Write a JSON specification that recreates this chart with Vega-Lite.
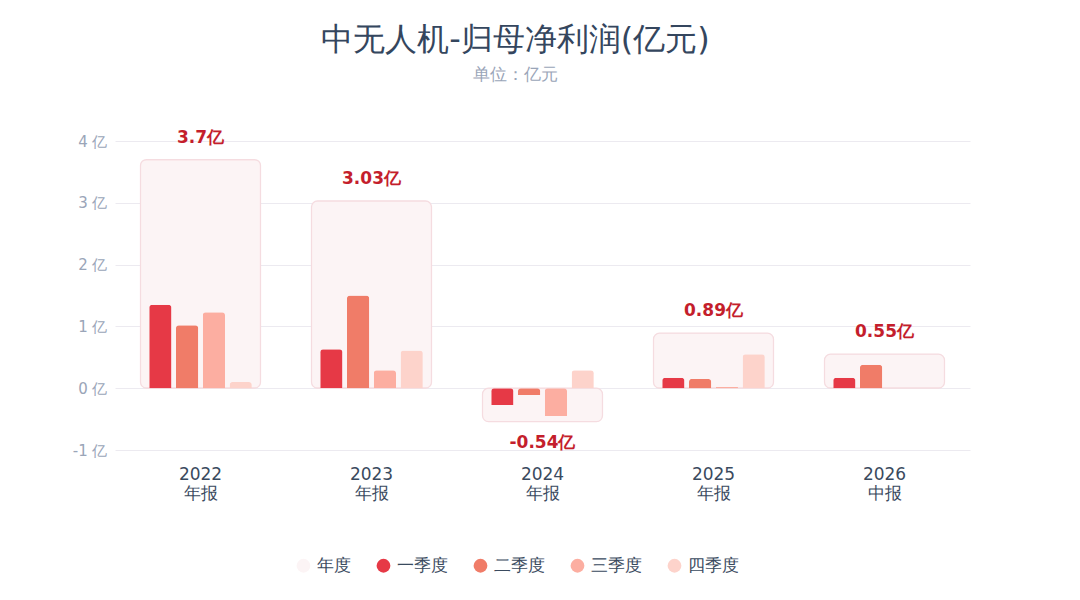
{
  "$schema": "https://vega.github.io/schema/vega-lite/v6.json",
  "autosize": {"type": "none"},
  "width": 855,
  "height": 309,
  "padding": {"left": 115, "top": 141, "right": 110, "bottom": 150},
  "background": "white",
  "config": {
    "font": "DejaVu Sans",
    "view": {"stroke": null}
  },
  "title": {
    "text": "中无人机-归母净利润(亿元)",
    "subtitle": "单位：亿元",
    "anchor": "middle",
    "frame": "group",
    "dx": -27,
    "offset": 45,
    "fontSize": 32,
    "fontWeight": "normal",
    "color": "#34465e",
    "subtitleFontSize": 17,
    "subtitleColor": "#9aa5b8",
    "subtitlePadding": 10
  },
  "datasets": {
    "annual": [
      {"period": "2022 年报", "series": "年度", "value": 3.7, "label": "3.7亿"},
      {"period": "2023 年报", "series": "年度", "value": 3.03, "label": "3.03亿"},
      {"period": "2024 年报", "series": "年度", "value": -0.54, "label": "-0.54亿"},
      {"period": "2025 年报", "series": "年度", "value": 0.89, "label": "0.89亿"},
      {"period": "2026 中报", "series": "年度", "value": 0.55, "label": "0.55亿"}
    ],
    "quarters": [
      {"period": "2022 年报", "series": "一季度", "value": 1.35},
      {"period": "2022 年报", "series": "二季度", "value": 1.02},
      {"period": "2022 年报", "series": "三季度", "value": 1.23},
      {"period": "2022 年报", "series": "四季度", "value": 0.1},
      {"period": "2023 年报", "series": "一季度", "value": 0.63},
      {"period": "2023 年报", "series": "二季度", "value": 1.5},
      {"period": "2023 年报", "series": "三季度", "value": 0.29},
      {"period": "2023 年报", "series": "四季度", "value": 0.61},
      {"period": "2024 年报", "series": "一季度", "value": -0.27},
      {"period": "2024 年报", "series": "二季度", "value": -0.11},
      {"period": "2024 年报", "series": "三季度", "value": -0.45},
      {"period": "2024 年报", "series": "四季度", "value": 0.29},
      {"period": "2025 年报", "series": "一季度", "value": 0.17},
      {"period": "2025 年报", "series": "二季度", "value": 0.15},
      {"period": "2025 年报", "series": "三季度", "value": 0.02},
      {"period": "2025 年报", "series": "四季度", "value": 0.55},
      {"period": "2026 中报", "series": "一季度", "value": 0.17},
      {"period": "2026 中报", "series": "二季度", "value": 0.38}
    ]
  },
  "encoding": {
    "x": {
      "field": "period",
      "type": "nominal",
      "sort": null,
      "scale": {"domain": ["2022 年报", "2023 年报", "2024 年报", "2025 年报", "2026 中报"], "paddingInner": 0.4, "paddingOuter": 0.2},
      "axis": {
        "title": null,
        "labelAngle": 0,
        "labelExpr": "split(datum.label, ' ')",
        "labelFontSize": 17,
        "labelColor": "#3a4a5e",
        "labelPadding": 16,
        "labelLineHeight": 19,
        "ticks": false,
        "domain": false,
        "grid": false
      }
    },
    "y": {
      "field": "value",
      "type": "quantitative",
      "scale": {"domain": [-1, 4], "nice": false},
      "axis": {
        "title": null,
        "values": [-1, 0, 1, 2, 3, 4],
        "labelExpr": "datum.value + ' 亿'",
        "labelFontSize": 15,
        "labelColor": "#9aa5b8",
        "labelPadding": 8,
        "ticks": false,
        "domain": false,
        "gridColor": "#eceaf0",
        "gridWidth": 1
      }
    }
  },
  "layer": [
    {
      "data": {"name": "annual"},
      "mark": {"type": "bar", "width": {"band": 1.17}, "cornerRadius": 6, "stroke": "#f5dce0", "strokeWidth": 1.2},
      "encoding": {
        "color": {
          "field": "series",
          "type": "nominal",
          "scale": {
            "domain": ["年度", "一季度", "二季度", "三季度", "四季度"],
            "range": ["#fcf4f5", "#e63946", "#f07c68", "#fcaea1", "#fdd3cb"]
          },
          "legend": {
            "title": null,
            "orient": "none",
            "direction": "horizontal",
            "legendX": 180,
            "legendY": 416,
            "symbolType": "circle",
            "symbolSize": 190,
            "symbolStrokeWidth": 0,
            "labelFontSize": 17,
            "labelColor": "#3a4a5e",
            "labelOffset": 5,
            "columnPadding": 24
          }
        }
      }
    },
    {
      "data": {"name": "quarters"},
      "mark": {"type": "bar", "cornerRadiusTopLeft": 3, "cornerRadiusTopRight": 3},
      "encoding": {
        "xOffset": {
          "field": "series",
          "type": "nominal",
          "sort": null,
          "scale": {"domain": ["一季度", "二季度", "三季度", "四季度"], "paddingInner": 0.17, "paddingOuter": 0}
        },
        "color": {"field": "series", "type": "nominal"}
      }
    },
    {
      "data": {"name": "annual"},
      "transform": [{"filter": "datum.value >= 0"}],
      "mark": {"type": "text", "baseline": "bottom", "dy": -13, "fontSize": 17, "fontWeight": "bold", "color": "#c41e2c"},
      "encoding": {"text": {"field": "label"}}
    },
    {
      "data": {"name": "annual"},
      "transform": [{"filter": "datum.value < 0"}],
      "mark": {"type": "text", "baseline": "top", "dy": 13, "fontSize": 17, "fontWeight": "bold", "color": "#c41e2c"},
      "encoding": {"text": {"field": "label"}}
    }
  ]
}
